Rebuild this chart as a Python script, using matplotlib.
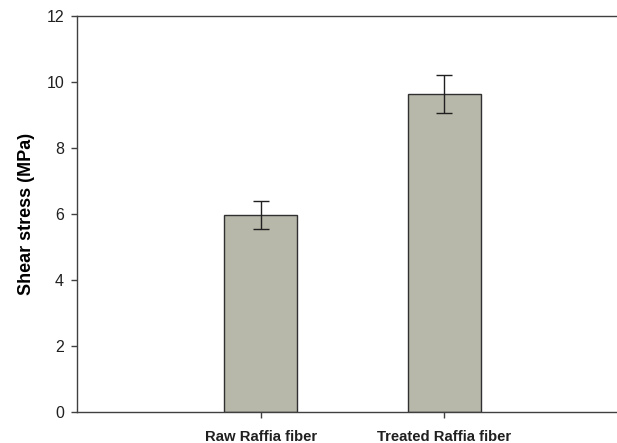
import numpy as np
import matplotlib
matplotlib.use("Agg")
import matplotlib.pyplot as plt

plt.rcParams['font.family'] = ['Liberation Sans', 'DejaVu Sans']

categories = ["Raw Raffia fiber", "Treated Raffia fiber"]
shear_stress = [5.97, 9.62]
errors = [0.42, 0.58]
yticks = [0, 2, 4, 6, 8, 10, 12]

fig = plt.figure(figsize=(6.17, 4.43), dpi=100)
ax = fig.add_axes([0.1253, 0.07, 0.892, 0.8946])

x = np.arange(1, len(categories) + 1)
ax.bar(x, shear_stress, width=0.4, color='#b7b7aa', edgecolor='#303030', linewidth=1.0,
       yerr=errors, capsize=5.5, error_kw=dict(ecolor='#202020', elinewidth=1.0, capthick=1.0))

ax.set_xlim(0, 3)
ax.set_ylim(0, 12)
ax.set_yticks(yticks)
ax.set_yticklabels([str(t) for t in yticks], fontsize=11.5, color='#202020')
ax.set_xticks(x)
ax.set_xticklabels(categories, fontsize=10.7, fontweight='bold', color='#202020')
ax.set_ylabel("Shear stress (MPa)", fontsize=13, fontweight='bold', labelpad=8.5)
ax.tick_params(direction='out', length=4.5, width=1.0, colors='#404040', labelcolor='#202020')
ax.tick_params(axis='y', pad=5)
ax.tick_params(axis='x', pad=8.5)

for s in ['left', 'top', 'bottom']:
    ax.spines[s].set_color('#404040')
    ax.spines[s].set_linewidth(1.0)
ax.spines['right'].set_visible(False)

fig.savefig("out.png", dpi=100)
